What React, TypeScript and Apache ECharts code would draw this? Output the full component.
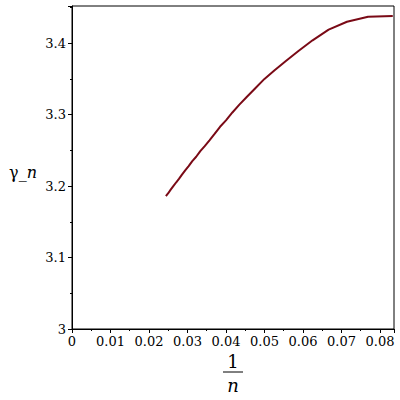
import React, { useEffect, useRef } from "react";
import * as echarts from "echarts";

const xValues = [
  0.08333, 0.07692, 0.07143, 0.06667, 0.0625, 0.05882, 0.05556, 0.05263, 0.05,
  0.04762, 0.04545, 0.04348, 0.04167, 0.04, 0.03846, 0.03704, 0.03571, 0.03448,
  0.03333, 0.03226, 0.03125, 0.0303, 0.02941, 0.02857, 0.02778, 0.02703,
  0.02632, 0.02564, 0.025, 0.02439,
];
const yValues = [
  3.438, 3.437, 3.43, 3.419, 3.404, 3.389, 3.375, 3.362, 3.35, 3.337, 3.325,
  3.314, 3.303, 3.292, 3.283, 3.273, 3.264, 3.256, 3.249, 3.241, 3.235, 3.228,
  3.222, 3.216, 3.21, 3.205, 3.2, 3.195, 3.19, 3.186,
];

const SERIF = "'DejaVu Serif', serif";

export default function App() {
  const ref = useRef<HTMLDivElement>(null);
  useEffect(() => {
    if (!ref.current) return;
    const chart = echarts.init(ref.current, null, { renderer: "svg" });
    const data = xValues.map((x, i) => [x, yValues[i]]);
    chart.setOption({
      animation: false,
      backgroundColor: "#fff",
      textStyle: { fontFamily: SERIF },
      grid: {
        left: 72,
        right: 6,
        top: 6,
        bottom: 71,
        show: true,
        borderColor: "#000",
        borderWidth: 1,
        containLabel: false,
        outerBoundsMode: "none",
      },
      xAxis: {
        type: "value",
        min: 0,
        max: 0.08365,
        interval: 0.01,
        axisLine: { show: true, onZero: false, lineStyle: { color: "#000" } },
        axisTick: { show: true, length: 4, lineStyle: { color: "#000" } },
        minorTick: { show: true, splitNumber: 2, length: 2, lineStyle: { color: "#000" } },
        splitLine: { show: false },
        axisLabel: {
          showMaxLabel: false,
          color: "#000",
          fontFamily: SERIF,
          fontSize: 13,
          margin: 6,
        },
      },
      yAxis: {
        type: "value",
        min: 3,
        max: 3.452,
        interval: 0.1,
        axisLine: { show: true, onZero: false, lineStyle: { color: "#000" } },
        axisTick: { show: true, length: 4, lineStyle: { color: "#000" } },
        minorTick: { show: true, splitNumber: 2, length: 2, lineStyle: { color: "#000" } },
        splitLine: { show: false },
        axisLabel: {
          showMaxLabel: false,
          color: "#000",
          fontFamily: SERIF,
          fontSize: 13,
          margin: 6,
        },
      },
      series: [
        {
          type: "line",
          data,
          showSymbol: false,
          symbol: "none",
          lineStyle: { color: "#7a0a16", width: 2 },
        },
      ],
      graphic: [
        {
          type: "text",
          x: 23,
          y: 172,
          style: {
            text: "{a|γ_}{b|n}",
            align: "center",
            verticalAlign: "middle",
            rich: {
              a: { fontFamily: SERIF, fontSize: 16, fill: "#000" },
              b: { fontFamily: SERIF, fontSize: 16, fontStyle: "italic", fill: "#000" },
            },
          },
        },
        {
          type: "text",
          x: 233,
          y: 361,
          style: {
            text: "1",
            fontFamily: SERIF,
            fontSize: 18,
            fill: "#000",
            align: "center",
            verticalAlign: "middle",
          },
        },
        {
          type: "line",
          shape: { x1: 223, y1: 372, x2: 243, y2: 372 },
          style: { stroke: "#000", lineWidth: 1 },
        },
        {
          type: "text",
          x: 233,
          y: 385,
          style: {
            text: "n",
            fontFamily: SERIF,
            fontSize: 18,
            fontStyle: "italic",
            fill: "#000",
            align: "center",
            verticalAlign: "middle",
          },
        },
      ],
    });
    return () => chart.dispose();
  }, []);
  return (
    <div
      ref={ref}
      style={{ position: "fixed", left: 0, top: 0, width: 400, height: 400 }}
    />
  );
}
